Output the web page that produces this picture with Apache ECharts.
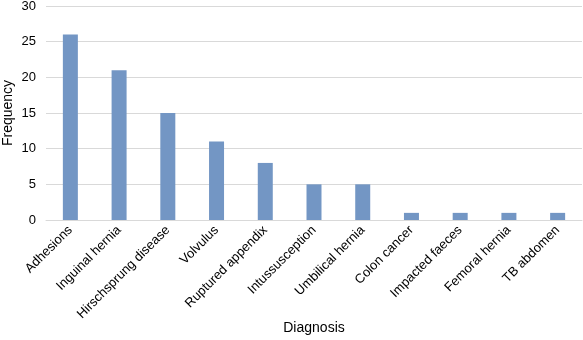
<!DOCTYPE html>
<html>
<head>
<meta charset="utf-8">
<script src="https://cdn.jsdelivr.net/npm/echarts@6/dist/echarts.min.js"></script>
<style>html,body{margin:0;padding:0;background:#fff}#c{width:583px;height:340px}</style>
</head>
<body>
<div id="c"></div>
<script>
const categories = ["Adhesions","Inguinal hernia","Hirschsprung disease","Volvulus","Ruptured appendix","Intussusception","Umbilical hernia","Colon cancer","Impacted faeces","Femoral hernia","TB abdomen"];
const frequency = [26,21,15,11,8,5,5,1,1,1,1];
const yTicks = {min:0, max:30, interval:5};

const chart = echarts.init(document.getElementById('c'), null, {renderer:'canvas'});
const font = 'Liberation Sans, Arial, Helvetica, sans-serif';
chart.setOption({
  animation:false,
  grid:{left:46, right:1, top:6, bottom:120, containLabel:false, outerBoundsMode:'none'},
  xAxis:{
    type:'category', data:categories,
    name:'Diagnosis', nameLocation:'middle', nameGap:108, nameMoveOverlap:false,
    nameTextStyle:{fontFamily:font, fontSize:14, color:'#000', verticalAlign:'middle'},
    axisLine:{show:true, lineStyle:{color:'#d9d9d9', width:1}},
    axisTick:{show:false},
    axisLabel:{rotate:45, interval:0, fontFamily:font, fontSize:13, color:'#000', margin:8}
  },
  yAxis:{
    type:'value', min:yTicks.min, max:yTicks.max, interval:yTicks.interval,
    name:'Frequency', nameLocation:'middle', nameGap:38, nameRotate:90, nameMoveOverlap:false,
    nameTextStyle:{fontFamily:font, fontSize:14, color:'#000', verticalAlign:'middle'},
    axisLine:{show:false}, axisTick:{show:false},
    axisLabel:{fontFamily:font, fontSize:13, color:'#000', margin:10},
    splitLine:{lineStyle:{color:'#d9d9d9', width:1}}
  },
  series:[{
    type:'bar', data:frequency, barWidth:15,
    itemStyle:{color:'#7396c4'}
  }]
});
</script>
</body>
</html>
